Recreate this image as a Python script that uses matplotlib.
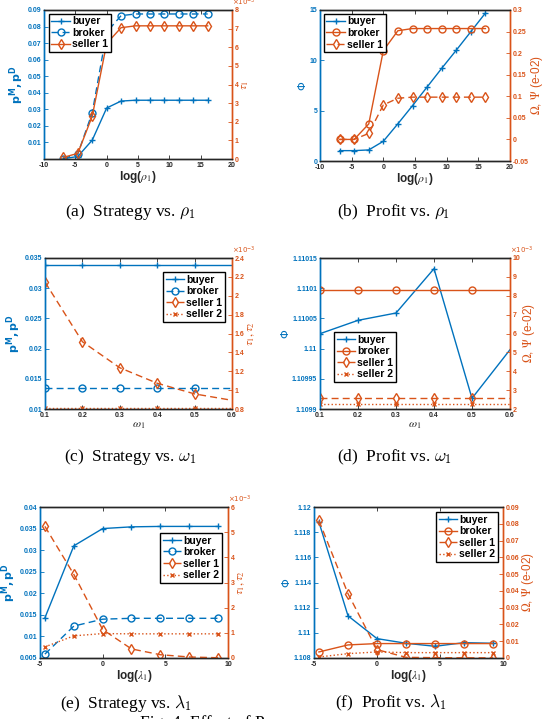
import numpy as np
import matplotlib
matplotlib.use('Agg')
import matplotlib.pyplot as plt
from matplotlib.ticker import FuncFormatter

plt.rcParams['font.family'] = ['Liberation Sans', 'DejaVu Sans']
plt.rcParams['mathtext.fontset'] = 'dejavusans'

BLUE = '#0072BD'
ORANGE = '#D95319'
GREY = '#262626'

# ---- data ----
# (a), (b): x axis is log(rho_1)
log_rho = [-6.91, -4.61, -2.30, 0.0, 2.30, 4.61, 6.91, 9.21, 11.51, 13.82, 16.12]
a_buyer = [0.0002, 0.0015, 0.0114, 0.0308, 0.0350, 0.0355, 0.0355, 0.0355, 0.0355, 0.0355, 0.0355]
a_broker = [0.0003, 0.0030, 0.0280, 0.0766, 0.0866, 0.0876, 0.0876, 0.0876, 0.0876, 0.0876, 0.0876]
a_seller1 = [0.09, 0.30, 2.30, 6.20, 7.05, 7.15, 7.15, 7.15, 7.15, 7.15, 7.15]  # x1e-3

b_buyer = [1.03, 1.03, 1.10, 1.96, 3.70, 5.50, 7.35, 9.20, 11.0, 12.85, 14.7]
b_broker = [0.0, 0.0, 0.036, 0.206, 0.252, 0.257, 0.257, 0.257, 0.257, 0.257, 0.257]
b_seller1 = [0.0, 0.0, 0.014, 0.080, 0.0955, 0.098, 0.098, 0.098, 0.098, 0.098, 0.098]

# (c), (d): x axis is omega_1
omega = [0.1, 0.2, 0.3, 0.4, 0.5, 0.6]
c_buyer = [0.0338, 0.0338, 0.0338, 0.0338, 0.0338, 0.0338]
c_broker = [0.0134, 0.0134, 0.0134, 0.0134, 0.0134, 0.0134]
c_seller1 = [2.145, 1.513, 1.237, 1.073, 0.96, 0.892]  # x1e-3
c_seller2 = [0.81, 0.81, 0.81, 0.81, 0.81, 0.81]

d_buyer = [1.1100247, 1.1100468, 1.1100589, 1.1101323, 1.1099177, 1.1099982]
d_broker = [8.30, 8.30, 8.30, 8.30, 8.30, 8.30]  # x1e-3
d_seller1 = [2.57, 2.57, 2.57, 2.57, 2.57, 2.57]
d_seller2 = [2.28, 2.28, 2.28, 2.28, 2.28, 2.28]

# (e), (f): x axis is log(lambda_1)
log_lam = [-4.61, -2.30, 0.0, 2.30, 4.61, 6.91, 9.21]
e_buyer = [0.0143, 0.0310, 0.0350, 0.0354, 0.0355, 0.0355, 0.0355]
e_broker = [0.0059, 0.0124, 0.0140, 0.0142, 0.0142, 0.0142, 0.0142]
e_seller1 = [5.23, 3.32, 1.13, 0.36, 0.13, 0.04, 0.01]  # x1e-3
e_seller2 = [0.44, 0.88, 0.97, 0.96, 0.96, 0.96, 0.96]

f_buyer = [1.1188, 1.11135, 1.10954, 1.10917, 1.10893, 1.10922, 1.10917]
f_broker = [0.0036, 0.0078, 0.0086, 0.0086, 0.0086, 0.0086, 0.0086]
f_seller1 = [0.082, 0.0383, 0.0050, 0.0004, 0.0002, 0.0001, 0.0001]
f_seller2 = [0.0006, 0.0026, 0.0036, 0.0032, 0.0032, 0.0032, 0.0032]

captions = [r'(a)  Strategy vs. $\rho_1$', r'(b)  Profit vs. $\rho_1$',
            r'(c)  Strategy vs. $\omega_1$', r'(d)  Profit vs. $\omega_1$',
            r'(e)  Strategy vs. $\lambda_1$', r'(f)  Profit vs. $\lambda_1$']

W, H = 542, 719
fig = plt.figure(figsize=(W / 100, H / 100), dpi=100)

MARKER = {'buyer': '+', 'broker': 'o', 'seller 1': 'd', 'seller 2': 'x'}
ORDER = ['buyer', 'broker', 'seller 1', 'seller 2']


def fmt(v, pos):
    return '%g' % round(v, 8)


def draw(a, x, lab, ls, vals, color, markevery):
    mk = MARKER[lab]
    h, = a.plot(x, vals, linestyle=ls, marker=mk, color=color, lw=1.0,
                ms=3.5 if mk == 'x' else 5, mfc='none', mew=1.0, markevery=markevery)
    if ls == '--':
        h.set_dashes((5, 3))
    return h


def panel(box, x, left, right, xlim, xticks, yl, ylt, yr, yrt, xlabel, ylab_l, ylab_r,
          rscale=1.0, offset=False, leg=None, markevery=None):
    x0, y0, x1, y1 = box
    ax = fig.add_axes([x0 / W, 1 - y1 / H, (x1 - x0) / W, (y1 - y0) / H])
    ax2 = ax.twinx()
    handles = {}
    for lab, ls, vals in left:
        handles[lab] = draw(ax, x, lab, ls, vals, BLUE, markevery)
    for lab, ls, vals in right:
        handles[lab] = draw(ax2, x, lab, ls, np.array(vals) * rscale, ORANGE, markevery)
    ax.set_xlim(xlim)
    ax.set_xticks(xticks)
    ax.set_ylim(yl)
    ax.set_yticks(ylt)
    ax2.set_ylim(np.array(yr) * rscale)
    ax2.set_yticks(np.array(yrt) * rscale)
    ax.xaxis.set_major_formatter(FuncFormatter(fmt))
    ax.yaxis.set_major_formatter(FuncFormatter(fmt))
    ax2.yaxis.set_major_formatter(FuncFormatter(lambda v, p: '%g' % round(v / rscale, 6)))
    ax.tick_params(direction='in', length=3, width=0.6, top=True, right=False, labelsize=5,
                   pad=2)
    ax.tick_params(axis='x', colors=GREY)
    ax.tick_params(axis='y', colors=BLUE)
    ax2.tick_params(direction='in', length=3, width=0.6, labelsize=5, colors=ORANGE, pad=2)
    for tl in ax.get_xticklabels() + ax.get_yticklabels() + ax2.get_yticklabels():
        tl.set_fontweight('bold')
    for a in (ax, ax2):
        for s in a.spines.values():
            s.set_linewidth(1.0)
            s.set_color(GREY)
        a.spines['left'].set_color(BLUE)
        a.spines['right'].set_color(ORANGE)
    ax.set_xlabel(xlabel, fontsize=8.5, fontweight='bold', color=GREY, labelpad=0,
                  math_fontfamily='stix')
    ax.set_ylabel(ylab_l, fontsize=8, fontweight='bold', color=BLUE, labelpad=1)
    ax2.set_ylabel(ylab_r, fontsize=8.5, color=ORANGE, labelpad=0.5, math_fontfamily='stix')
    if offset:
        ax2.text(1.0, 1.015, r'$\times 10^{-3}$', transform=ax2.transAxes, fontsize=5,
                 color=ORANGE, ha='left', va='bottom')
    loc, anchor = leg
    keys = [k for k in ORDER if k in handles]
    lg = ax2.legend([handles[k] for k in keys], keys, loc=loc, bbox_to_anchor=anchor,
                    borderaxespad=0, fancybox=False, framealpha=1, edgecolor='black',
                    prop={'weight': 'bold', 'size': 7.5}, handlelength=1.8, handletextpad=0.2,
                    labelspacing=0.15, borderpad=0.25)
    lg.get_frame().set_linewidth(1.0)
    return ax, ax2


panel((44, 10, 232, 159), log_rho,
      [('buyer', '-', a_buyer), ('broker', '--', a_broker)],
      [('seller 1', '-', a_seller1)],
      (-10, 20), range(-10, 21, 5), (0, 0.09), np.arange(0.01, 0.0901, 0.01),
      (0, 8), range(0, 9), r'log($\rho_1$)', r'$\mathbf{p^M, p^D}$', r'$\tau_1$',
      rscale=1e-3, offset=True, leg=('upper left', (0.025, 0.975)))

panel((320, 10, 510, 161), log_rho,
      [('buyer', '-', b_buyer)],
      [('broker', '-', b_broker), ('seller 1', '--', b_seller1)],
      (-10, 20), range(-10, 21, 5), (0, 15), [0, 5, 10, 15],
      (-0.05, 0.3), np.arange(-0.05, 0.301, 0.05), r'log($\rho_1$)', r'$\Phi$',
      r'$\Omega$, $\Psi$ (e-02)', leg=('upper left', (0.02, 0.975)))

panel((45, 258, 232, 409), omega,
      [('buyer', '-', c_buyer), ('broker', '--', c_broker)],
      [('seller 1', '--', c_seller1), ('seller 2', ':', c_seller2)],
      (0.1, 0.6), omega, (0.01, 0.035), np.arange(0.01, 0.0351, 0.005),
      (0.8, 2.4), np.arange(0.8, 2.41, 0.2), r'$\omega_1$', r'$\mathbf{p^M, p^D}$',
      r'$\tau_1, \tau_2$', rscale=1e-3, offset=True, leg=('upper right', (0.963, 0.907)),
      markevery=slice(0, 5))

panel((320, 258, 510, 409), omega,
      [('buyer', '-', d_buyer)],
      [('broker', '-', d_broker), ('seller 1', '--', d_seller1), ('seller 2', ':', d_seller2)],
      (0.1, 0.6), omega, (1.1099, 1.11015), np.arange(1.1099, 1.110151, 0.00005),
      (2, 10), range(2, 11), r'$\omega_1$', r'$\Phi$', r'$\Omega$, $\Psi$ (e-02)',
      rscale=1e-3, offset=True, leg=('upper left', (0.074, 0.51)), markevery=slice(0, 5))

panel((40, 507, 228, 658), log_lam,
      [('buyer', '-', e_buyer), ('broker', '--', e_broker)],
      [('seller 1', '--', e_seller1), ('seller 2', ':', e_seller2)],
      (-5, 10), [-5, 0, 5, 10], (0.005, 0.04), np.arange(0.005, 0.0401, 0.005),
      (0, 6), range(0, 7), r'log($\lambda_1$)', r'$\mathbf{p^M, p^D}$',
      r'$\tau_1, \tau_2$', rscale=1e-3, offset=True, leg=('upper right', (0.968, 0.828)))

panel((314, 507, 503, 658), log_lam,
      [('buyer', '-', f_buyer)],
      [('broker', '-', f_broker), ('seller 1', '--', f_seller1), ('seller 2', ':', f_seller2)],
      (-5, 10), [-5, 0, 5, 10], (1.108, 1.12), np.arange(1.108, 1.1201, 0.002),
      (0, 0.09), np.arange(0, 0.0901, 0.01), r'log($\lambda_1$)', r'$\Phi$',
      r'$\Omega$, $\Psi$ (e-02)', leg=('upper right', (0.974, 0.967)))

cap_pos = [(130, 212), (394, 212), (130, 457), (394, 457), (126, 703), (391, 703)]
for (cx, cy), txt in zip(cap_pos, captions):
    fig.text(cx / W, 1 - cy / H, txt, ha='center', va='center', fontsize=12.5,
             family='Liberation Serif', math_fontfamily='cm')
# figure caption, mostly cut off at the bottom edge as in the source
fig.text(140 / W, 1 - 727 / H, 'Fig. 4: Effect of P', ha='left', va='baseline',
         fontsize=12.5, family='Liberation Serif')

fig.savefig('out.png', dpi=100)
